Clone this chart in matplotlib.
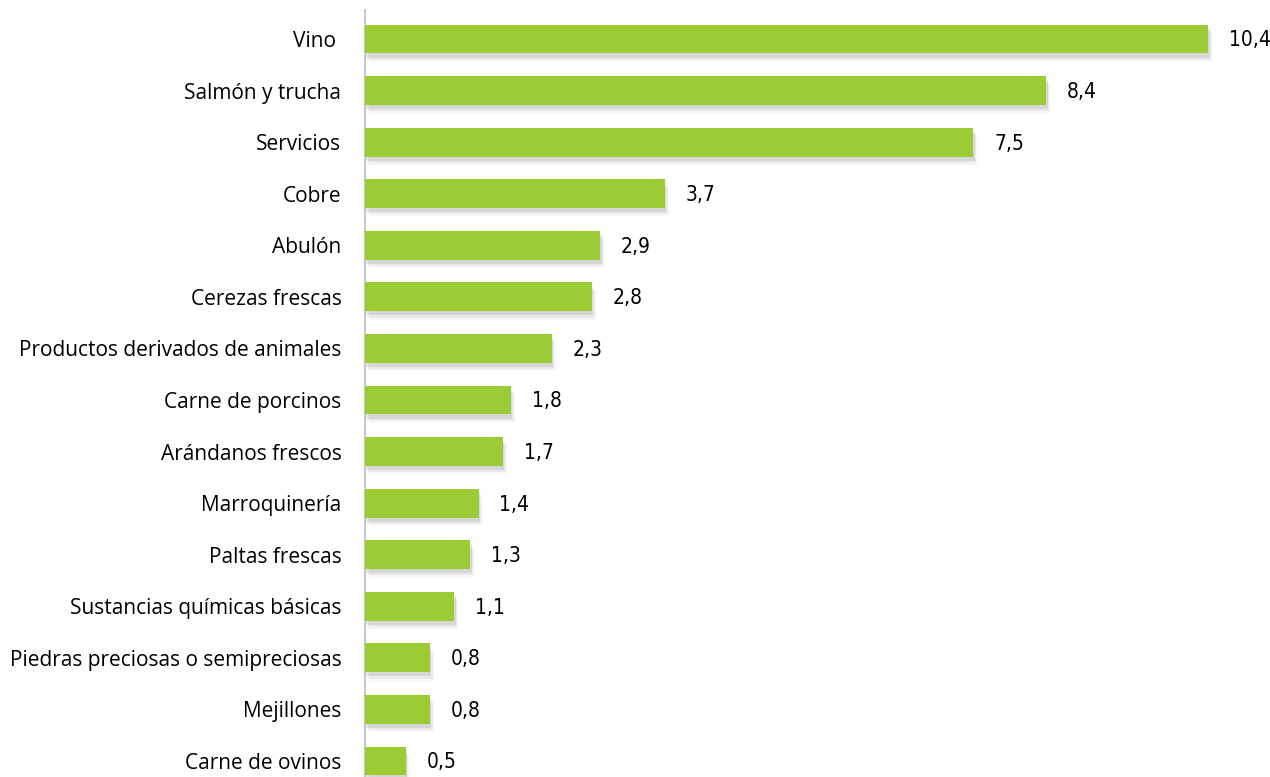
import matplotlib
matplotlib.use("Agg")
import matplotlib.pyplot as plt
import matplotlib.patheffects as pe

# Data (top to bottom)
categories = [
    "Vino ", "Salmón y trucha", "Servicios", "Cobre", "Abulón",
    "Cerezas frescas", "Productos derivados de animales", "Carne de porcinos",
    "Arándanos frescos", "Marroquinería", "Paltas frescas",
    "Sustancias químicas básicas", "Piedras preciosas o semipreciosas",
    "Mejillones", "Carne de ovinos",
]
values = [10.4, 8.4, 7.5, 3.7, 2.9, 2.8, 2.3, 1.8, 1.7, 1.4, 1.3, 1.1, 0.8, 0.8, 0.5]

GREEN = "#9BCB35"

W, H = 1270, 777
fig = plt.figure(figsize=(W / 100, H / 100), dpi=100)
ax = fig.add_axes([365 / W, 0, 1 - 365 / W, 1])

pitch = 51.57
top = -39 / pitch
bottom = len(categories) - 1 + (H - 761) / pitch
ypos = list(range(len(categories)))

bars = ax.barh(ypos, values, height=0.56, color=GREEN, zorder=3)
# soft drop shadow below each bar
for b in bars:
    b.set_path_effects([
        pe.SimplePatchShadow(offset=(3, -6), shadow_rgbFace="#aaaaaa", alpha=0.08),
        pe.SimplePatchShadow(offset=(2, -4.5), shadow_rgbFace="#999999", alpha=0.14),
        pe.SimplePatchShadow(offset=(1, -3), shadow_rgbFace="#888888", alpha=0.2),
        pe.Normal(),
    ])

ax.set_ylim(bottom, top)
ax.set_xlim(0, 11.16)

for y, v in zip(ypos, values):
    ax.annotate(f"{v:.1f}".replace(".", ","), (v, y), xytext=(15, -1),
                textcoords="offset points", va="center", ha="left",
                fontsize=15, fontfamily="DejaVu Sans", fontstretch="condensed",
                color="black")

ax.set_yticks(ypos)
ax.set_yticklabels(categories, fontsize=15, fontfamily="Open Sans", color="black")
ax.tick_params(axis="y", length=0, pad=17)
ax.set_xticks([])

for s in ["top", "right", "bottom"]:
    ax.spines[s].set_visible(False)
ax.spines["left"].set_color("#c8c8c8")
ax.spines["left"].set_linewidth(1.5)
ax.spines["left"].set_bounds(top + 10 / pitch, bottom)

fig.savefig("out.png", dpi=100)
